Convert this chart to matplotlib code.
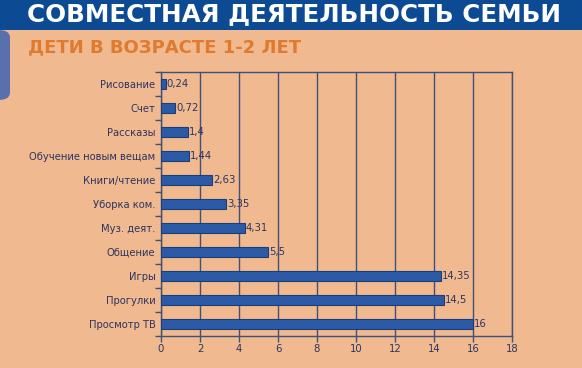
import matplotlib
matplotlib.use("Agg")
import matplotlib.pyplot as plt
from matplotlib.patches import FancyBboxPatch, Rectangle

# data (top to bottom as on the chart)
activities = ["Рисование", "Счет", "Рассказы", "Обучение новым вещам", "Книги/чтение",
              "Уборка ком.", "Муз. деят.", "Общение", "Игры", "Прогулки", "Просмотр ТВ"]
hours = [0.24, 0.72, 1.4, 1.44, 2.63, 3.35, 4.31, 5.5, 14.35, 14.5, 16]
value_labels = ["0,24", "0,72", "1,4", "1,44", "2,63", "3,35", "4,31", "5,5", "14,35", "14,5", "16"]
x_ticks = [0, 2, 4, 6, 8, 10, 12, 14, 16, 18]

title = "СОВМЕСТНАЯ ДЕЯТЕЛЬНОСТЬ СЕМЬИ"
subtitle = "ДЕТИ В ВОЗРАСТЕ 1-2 ЛЕТ"

bg = "#f0b98f"
navy = "#0c4a94"
bar_col = "#2b5aa6"
line_col = "#3f5276"
text_col = "#2c3560"

W, H = 582, 368
fig = plt.figure(figsize=(W / 100, H / 100), dpi=100)
fig.patch.set_facecolor(bg)

# header banner and side strip
fig.patches.append(Rectangle((0, 1 - 30 / H), 1, 30 / H, transform=fig.transFigure,
                             facecolor=navy, edgecolor="none", zorder=0))
fig.patches.append(FancyBboxPatch((-10 / W, 1 - 100 / H), 20 / W, 70 / H,
                                  boxstyle="round,pad=0,rounding_size=0.02",
                                  transform=fig.transFigure, facecolor="#5a6fae",
                                  edgecolor="none", zorder=0))
fig.text(294 / W, 1 - 14 / H, title, color="white", fontsize=17.7, fontweight="bold",
         ha="center", va="center")
fig.text(28 / W, 1 - 47 / H, subtitle, color="#e07a2e", fontsize=13, fontweight="bold",
         ha="left", va="center")

ax = fig.add_axes([161 / W, 32 / H, 351 / W, 264 / H])
ax.set_facecolor(bg)

y = list(range(len(activities)))[::-1]
ax.barh(y, hours, height=0.45, color=bar_col, edgecolor="#1d3c78", linewidth=0.8, zorder=3)
for yi, v, lab in zip(y, hours, value_labels):
    ax.text(v + 0.05, yi, lab, va="center", ha="left", fontsize=7.3, color=text_col, zorder=4)

ax.set_xlim(0, 18)
ax.set_ylim(-0.5, len(activities) - 0.5)
ax.set_xticks(x_ticks)
ax.set_xticklabels([str(t) for t in x_ticks], fontsize=7.3, color=text_col)
ax.set_yticks(y)
ax.set_yticklabels(activities, fontsize=7.2, color=text_col)
ax.tick_params(axis="y", length=0, pad=4)
ax.set_yticks([i + 0.5 for i in range(-1, len(activities))], minor=True)
ax.tick_params(axis="y", which="minor", length=4, color=line_col, width=1)
ax.tick_params(axis="x", length=4, color=line_col, width=1, pad=2)

ax.grid(axis="x", color=line_col, linewidth=1, zorder=1)
for s in ax.spines.values():
    s.set_color(line_col)
    s.set_linewidth(1)

fig.savefig("out.png", dpi=100, facecolor=fig.get_facecolor())
